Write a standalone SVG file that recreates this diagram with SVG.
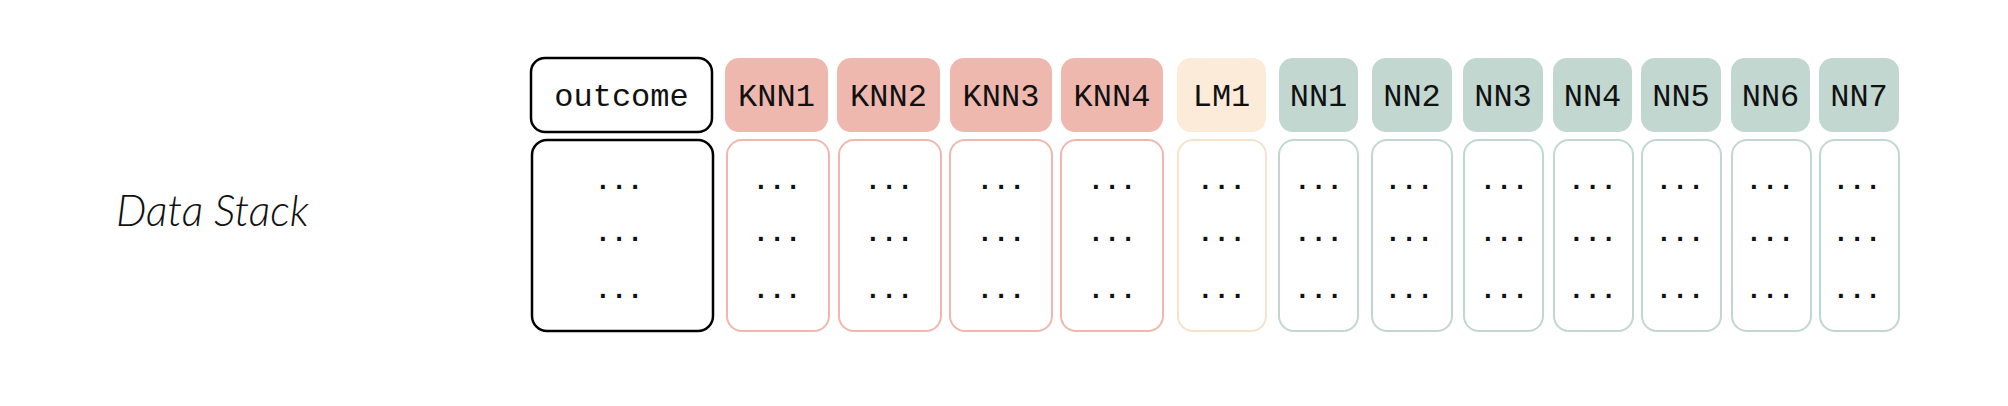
<svg xmlns="http://www.w3.org/2000/svg" width="2008" height="406" viewBox="0 0 2008 406">
<style>
.hdr{font-family:"Liberation Mono","Courier New",monospace;font-size:32px;fill:#111;text-anchor:middle}
.dots{font-family:"Liberation Mono","Courier New",monospace;font-size:27px;fill:#111;text-anchor:middle;font-weight:bold}
.title{font-family:Lato,"Open Sans",sans-serif;font-style:italic;font-weight:300;font-size:43px;fill:#111}
.knnH{fill:#EFB8AF}
.lmH{fill:#FCEBD8}
.nnH{fill:#C1D7CF}
.outH{fill:#fff;stroke:#000;stroke-width:2.5}
.knnB{fill:#fff;stroke:#EFB8AF;stroke-width:2}
.lmB{fill:#fff;stroke:#F5E3CC;stroke-width:2}
.nnB{fill:#fff;stroke:#C1D7CF;stroke-width:2}
.outB{fill:#fff;stroke:#000;stroke-width:2.5}
</style>
<rect width="2008" height="406" fill="#fff"/>
<text class="title" x="116" y="226">Data Stack</text>
<g id="outcome">
<rect class="outH" x="531" y="58" width="181" height="74" rx="14"/>
<text class="hdr" x="621.5" y="106">outcome</text>
<rect class="outB" x="532" y="140" width="181" height="191" rx="15"/>
<text class="dots" x="619" y="189">...</text><text class="dots" x="619" y="241">...</text><text class="dots" x="619" y="298">...</text>
</g>
<g id="KNN1">
<rect class="knnH" x="725" y="58" width="103" height="74" rx="14"/>
<text class="hdr" x="776.5" y="106">KNN1</text>
<rect class="knnB" x="727" y="140" width="102" height="191" rx="15"/>
<text class="dots" x="777" y="189">...</text><text class="dots" x="777" y="241">...</text><text class="dots" x="777" y="298">...</text>
</g>
<g id="KNN2">
<rect class="knnH" x="837" y="58" width="103" height="74" rx="14"/>
<text class="hdr" x="888.5" y="106">KNN2</text>
<rect class="knnB" x="839" y="140" width="102" height="191" rx="15"/>
<text class="dots" x="889" y="189">...</text><text class="dots" x="889" y="241">...</text><text class="dots" x="889" y="298">...</text>
</g>
<g id="KNN3">
<rect class="knnH" x="950" y="58" width="102" height="74" rx="14"/>
<text class="hdr" x="1001" y="106">KNN3</text>
<rect class="knnB" x="950" y="140" width="102" height="191" rx="15"/>
<text class="dots" x="1001" y="189">...</text><text class="dots" x="1001" y="241">...</text><text class="dots" x="1001" y="298">...</text>
</g>
<g id="KNN4">
<rect class="knnH" x="1061" y="58" width="102" height="74" rx="14"/>
<text class="hdr" x="1112" y="106">KNN4</text>
<rect class="knnB" x="1061" y="140" width="102" height="191" rx="15"/>
<text class="dots" x="1112" y="189">...</text><text class="dots" x="1112" y="241">...</text><text class="dots" x="1112" y="298">...</text>
</g>
<g id="LM1">
<rect class="lmH" x="1177" y="58" width="89" height="74" rx="14"/>
<text class="hdr" x="1221.5" y="106">LM1</text>
<rect class="lmB" x="1178" y="140" width="88" height="191" rx="15"/>
<text class="dots" x="1221.5" y="189">...</text><text class="dots" x="1221.5" y="241">...</text><text class="dots" x="1221.5" y="298">...</text>
</g>
<g id="NN1">
<rect class="nnH" x="1279" y="58" width="79" height="74" rx="14"/>
<text class="hdr" x="1318.5" y="106">NN1</text>
<rect class="nnB" x="1279" y="140" width="79" height="191" rx="15"/>
<text class="dots" x="1318.5" y="189">...</text><text class="dots" x="1318.5" y="241">...</text><text class="dots" x="1318.5" y="298">...</text>
</g>
<g id="NN2">
<rect class="nnH" x="1372" y="58" width="80" height="74" rx="14"/>
<text class="hdr" x="1412" y="106">NN2</text>
<rect class="nnB" x="1372" y="140" width="80" height="191" rx="15"/>
<text class="dots" x="1409" y="189">...</text><text class="dots" x="1409" y="241">...</text><text class="dots" x="1409" y="298">...</text>
</g>
<g id="NN3">
<rect class="nnH" x="1463" y="58" width="80" height="74" rx="14"/>
<text class="hdr" x="1503" y="106">NN3</text>
<rect class="nnB" x="1464" y="140" width="79" height="191" rx="15"/>
<text class="dots" x="1504" y="189">...</text><text class="dots" x="1504" y="241">...</text><text class="dots" x="1504" y="298">...</text>
</g>
<g id="NN4">
<rect class="nnH" x="1553" y="58" width="79" height="74" rx="14"/>
<text class="hdr" x="1592.5" y="106">NN4</text>
<rect class="nnB" x="1554" y="140" width="79" height="191" rx="15"/>
<text class="dots" x="1592.5" y="189">...</text><text class="dots" x="1592.5" y="241">...</text><text class="dots" x="1592.5" y="298">...</text>
</g>
<g id="NN5">
<rect class="nnH" x="1641" y="58" width="80" height="74" rx="14"/>
<text class="hdr" x="1681" y="106">NN5</text>
<rect class="nnB" x="1642" y="140" width="79" height="191" rx="15"/>
<text class="dots" x="1680" y="189">...</text><text class="dots" x="1680" y="241">...</text><text class="dots" x="1680" y="298">...</text>
</g>
<g id="NN6">
<rect class="nnH" x="1731" y="58" width="79" height="74" rx="14"/>
<text class="hdr" x="1770.5" y="106">NN6</text>
<rect class="nnB" x="1732" y="140" width="79" height="191" rx="15"/>
<text class="dots" x="1770" y="189">...</text><text class="dots" x="1770" y="241">...</text><text class="dots" x="1770" y="298">...</text>
</g>
<g id="NN7">
<rect class="nnH" x="1819" y="58" width="80" height="74" rx="14"/>
<text class="hdr" x="1859" y="106">NN7</text>
<rect class="nnB" x="1820" y="140" width="79" height="191" rx="15"/>
<text class="dots" x="1857" y="189">...</text><text class="dots" x="1857" y="241">...</text><text class="dots" x="1857" y="298">...</text>
</g>
<g id="connectors"></g>
</svg>
